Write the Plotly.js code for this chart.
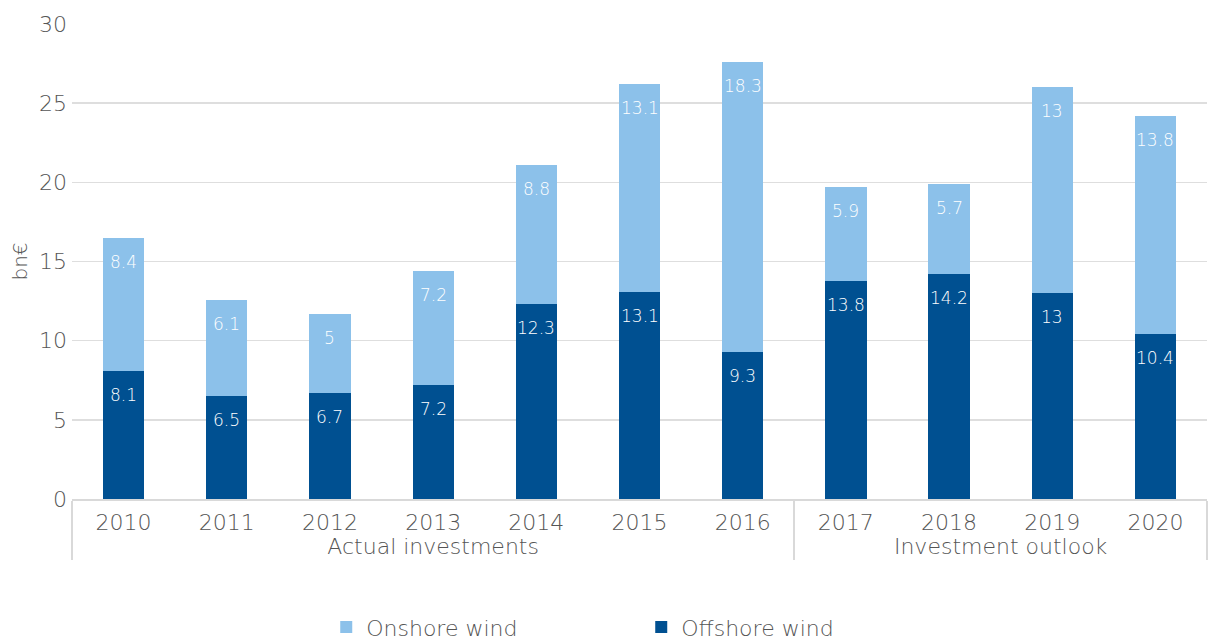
<!DOCTYPE html>
<html>
<head>
<meta charset="utf-8">
<script src="https://cdn.plot.ly/plotly-3.0.1.min.js"></script>
<style>body{margin:0;background:#fff}#chart{width:1208px;height:640px}</style>
</head>
<body>
<div id="chart"></div>
<script>
const years = ["2010","2011","2012","2013","2014","2015","2016","2017","2018","2019","2020"];
const groups = ["Actual investments","Actual investments","Actual investments","Actual investments","Actual investments","Actual investments","Actual investments","Investment outlook","Investment outlook","Investment outlook","Investment outlook"];
const offshore = [8.1, 6.5, 6.7, 7.2, 12.3, 13.1, 9.3, 13.8, 14.2, 13, 10.4];
const onshore = [8.4, 6.1, 5, 7.2, 8.8, 13.1, 18.3, 5.9, 5.7, 13, 13.8];

const FONT = "'DejaVu Sans', sans-serif";
const GREY = "#555555";
const DARK = "#005091";
const LIGHT = "#8CC1EA";
const W = 200;

const x = [groups, years];
const common = {type: "bar", x: x, hoverinfo: "skip", textposition: "none"};

const traces = [
  Object.assign({}, common, {name: "Offshore wind", y: offshore, marker: {color: DARK}}),
  Object.assign({}, common, {name: "Onshore wind", y: onshore, marker: {color: LIGHT}})
];

// value labels near the top of each stacked segment
const annotations = [];
years.forEach((yr, i) => {
  const lblFont = {family: FONT, size: 17, color: "#ffffff", weight: W};
  annotations.push({x: i, y: offshore[i], xref: "x", yref: "y", text: String(offshore[i]),
    showarrow: false, yanchor: "middle", yshift: -24, font: lblFont});
  annotations.push({x: i, y: offshore[i] + onshore[i], xref: "x", yref: "y", text: String(onshore[i]),
    showarrow: false, yanchor: "middle", yshift: -24, font: lblFont});
});

const layout = {
  width: 1208, height: 640,
  margin: {l: 72, r: 1, t: 24, b: 140.5},
  barmode: "stack",
  bargap: 0.6,
  paper_bgcolor: "#ffffff",
  plot_bgcolor: "#ffffff",
  font: {family: FONT, color: GREY, size: 22, weight: W},
  xaxis: {
    type: "multicategory",
    showline: true, linecolor: "#d9d9d9", linewidth: 2,
    showdividers: true, dividercolor: "#d9d9d9", dividerwidth: 2,
    ticks: "",
    ticklabelstandoff: 3,
    tickfont: {family: FONT, size: 22, color: GREY, weight: W}
  },
  yaxis: {
    range: [0, 30], dtick: 5,
    showgrid: true, gridcolor: "#dedede", gridwidth: 1.5,
    zeroline: false, showline: false,
    ticklabelstandoff: 4,
    tickfont: {family: FONT, size: 22, color: GREY, weight: W},
    title: {text: "bn€", font: {family: FONT, size: 20, color: GREY, weight: W}, standoff: 6}
  },
  legend: {
    orientation: "h", traceorder: "reversed",
    x: 0.224, xanchor: "left", xref: "paper",
    y: 0.02, yanchor: "middle", yref: "container",
    font: {family: FONT, size: 22, color: GREY, weight: W},
    entrywidth: 270, entrywidthmode: "pixels"
  },
  annotations: annotations,
  showlegend: true
};

Plotly.newPlot("chart", traces, layout, {staticPlot: true, displayModeBar: false});
</script>
</body>
</html>
